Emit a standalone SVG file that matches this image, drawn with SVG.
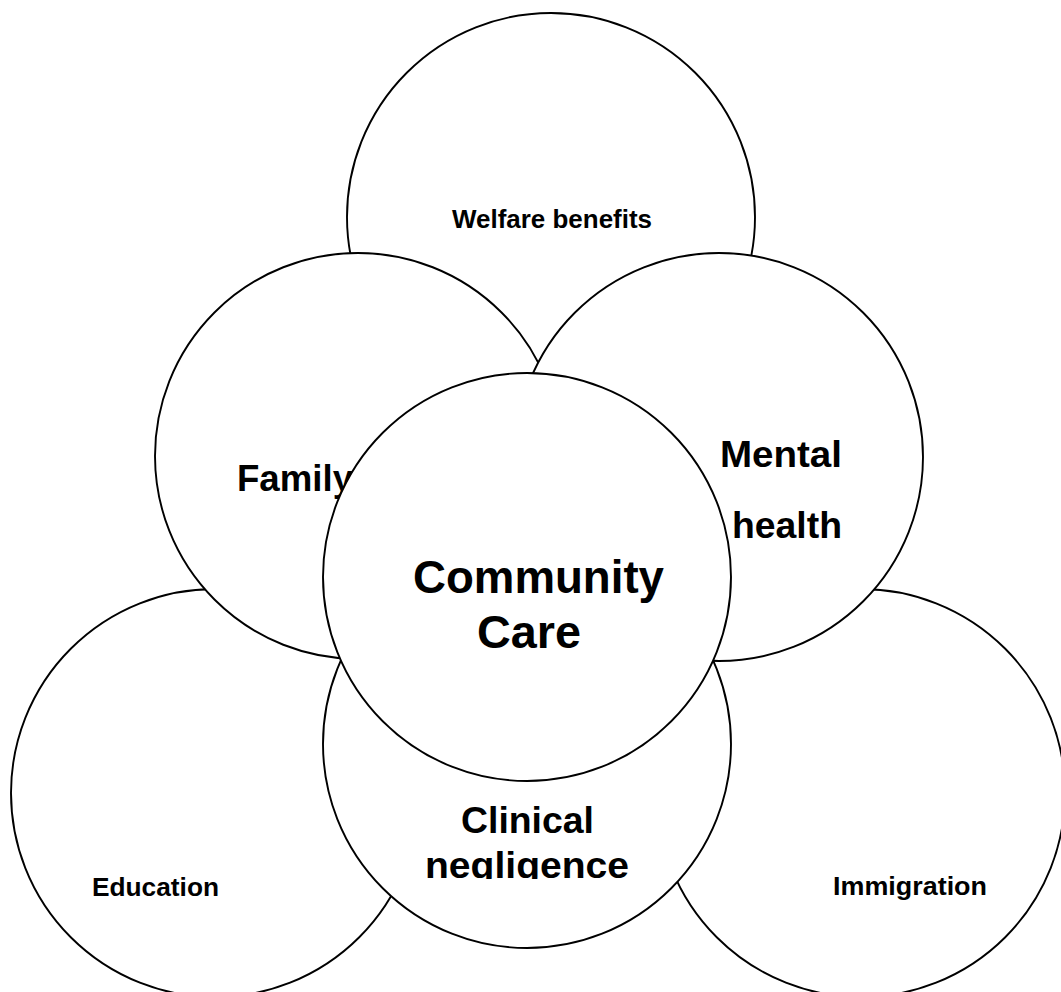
<svg xmlns="http://www.w3.org/2000/svg" width="1061" height="992" viewBox="0 0 1061 992">
  <style>
    .ring { fill: #ffffff; stroke: #000000; stroke-width: 1.9; }
    .lbl { font-family: "Liberation Sans", Arial, sans-serif; font-weight: bold; fill: #000000; text-anchor: middle; }
    .s26 { font-size: 26px; }
    .s36 { font-size: 36px; }
    .s37 { font-size: 37px; }
    .s46 { font-size: 46px; }
  </style>
  <defs>
    <!-- the second line of this label is cut off at its baseline -->
    <clipPath id="clinicalClip">
      <rect x="0" y="0" width="1061" height="879"/>
    </clipPath>
  </defs>
  <rect x="0" y="0" width="1061" height="992" fill="#ffffff"/>

  <!-- no connectors: the circles overlap each other -->
  <g id="connectors"/>

  <g id="welfare">
    <circle class="ring" cx="551" cy="217" r="204"/>
    <text class="lbl s26" x="552" y="228" textLength="200" lengthAdjust="spacingAndGlyphs">Welfare benefits</text>
  </g>

  <g id="education">
    <circle class="ring" cx="215" cy="793" r="204"/>
    <text class="lbl s26" x="155.5" y="896" textLength="127" lengthAdjust="spacingAndGlyphs">Education</text>
  </g>

  <g id="immigration">
    <circle class="ring" cx="861" cy="793" r="204"/>
    <text class="lbl s26" x="910" y="895" textLength="154" lengthAdjust="spacingAndGlyphs">Immigration</text>
  </g>

  <g id="family">
    <circle class="ring" cx="358" cy="456" r="203"/>
    <text class="lbl s36" x="295" y="491" textLength="116" lengthAdjust="spacingAndGlyphs">Family</text>
  </g>

  <g id="mental-health">
    <circle class="ring" cx="719" cy="457" r="204"/>
    <text class="lbl s36" x="781" y="467" textLength="122" lengthAdjust="spacingAndGlyphs">Mental</text>
    <text class="lbl s36" x="787" y="538" textLength="110" lengthAdjust="spacingAndGlyphs">health</text>
  </g>

  <g id="clinical-negligence">
    <circle class="ring" cx="527" cy="744" r="204"/>
    <text class="lbl s37" x="527.5" y="833" textLength="133" lengthAdjust="spacingAndGlyphs">Clinical</text>
    <text class="lbl s37" x="527" y="878" textLength="204" lengthAdjust="spacingAndGlyphs" clip-path="url(#clinicalClip)">negligence</text>
  </g>

  <g id="community-care">
    <circle class="ring" cx="527" cy="577" r="204"/>
    <text class="lbl s46" x="538.5" y="593" textLength="251" lengthAdjust="spacingAndGlyphs">Community</text>
    <text class="lbl s46" x="529" y="648" textLength="104" lengthAdjust="spacingAndGlyphs">Care</text>
  </g>
</svg>
